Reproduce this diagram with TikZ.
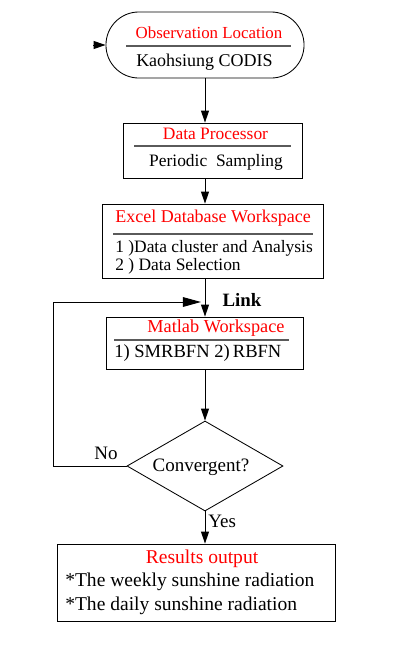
\documentclass[tikz,border=0pt]{standalone}
\usepackage{fontspec}
\setmainfont{Liberation Serif}
\usetikzlibrary{arrows.meta,shapes.geometric,positioning,calc}
\definecolor{flowred} {RGB}{255,0,0}
\definecolor{flowgray}{RGB}{90,90,90}

\begin{document}
\begin{tikzpicture}[
  x=0.025cm,y=-0.025cm,
  >={Triangle[length=0.30cm,width=0.20cm]},
  box/.style ={draw,line width=0.6pt,inner sep=0pt},
  fsz/.style ={font=\fontsize{#1}{#1}\selectfont},
  ttl/.style ={text=flowred,fsz=12.4,inner sep=0pt},
  txt/.style ={fsz=12.4,inner sep=0pt},
  sep/.style ={flowgray,line width=0.8pt},
  arr/.style ={->,line width=0.7pt},
  larr/.style={-{Triangle[length=0.45cm,width=0.24cm]},line width=0.7pt},
]
\useasboundingbox (0,0) rectangle (412,646);

%% ── Observation location ─────────────────────────────────────────────────────
\node[box,rounded corners=0.82cm,minimum width=4.95cm,minimum height=1.65cm]
  (obs) at (205,45) {};
\node[ttl,fsz=12] (obsttl) at (209,33) {Observation Location};
\node[txt,fsz=12.8] (obstxt) at (204.5,62) {Kaohsiung CODIS};
\draw[sep] (126,46) -- (291,46);
\coordinate (start) at (93,45);

%% ── Data processor ───────────────────────────────────────────────────────────
\node[box,minimum width=4.475cm,minimum height=1.375cm] (dp) at (212.5,150.5) {};
\node[ttl] (dpttl) at (215.5,134) {Data Processor};
\node[txt] (dptxt) at (216,162) {Periodic\ \ Sampling};
\draw[sep] (134,146) -- (291,146);

%% ── Excel database ───────────────────────────────────────────────────────────
\node[box,minimum width=5.525cm,minimum height=1.85cm] (xl) at (212.5,241) {};
\node[ttl,fsz=12.8] (xlttl) at (213,218) {Excel Database Workspace};
\node[txt,anchor=west] (xlone) at (115,248) {1 )Data cluster and Analysis};
\node[txt,anchor=west] (xltwo) at (115,266) {2 ) Data Selection};
\draw[sep] (113,234) -- (313,234);

%% ── Matlab workspace ─────────────────────────────────────────────────────────
\node[box,minimum width=4.925cm,minimum height=1.3cm] (mw) at (204.5,343) {};
\node[ttl,fsz=13] (mwttl) at (216,328) {Matlab Workspace};
\node[txt,fsz=13.2,anchor=west] (mwtxt) at (114,353) {1)\ SMRBFN 2)\,RBFN};
\draw[sep] (114,340) -- (289,340);
\node[txt,font=\fontsize{13.4}{14}\selectfont\bfseries] (link) at (242,300) {Link};

%% ── Decision ─────────────────────────────────────────────────────────────────
\node[box,diamond,aspect=1.73,minimum width=3.9cm,minimum height=2.25cm]
  (conv) at (205,466) {};
\node[txt,fsz=13.5] (convtxt) at (201,467) {Convergent?};
\node[txt,fsz=13.5] (no)  at (106,453) {No};
\node[txt,fsz=13.5,anchor=west] (yes) at (208,521) {Yes};

%% ── Results ──────────────────────────────────────────────────────────────────
\node[box,minimum width=6.95cm,minimum height=1.925cm] (res) at (196,582.5) {};
\node[ttl,fsz=13.9] (resttl) at (202,559) {Results output};
\node[txt,fsz=13.9,anchor=west] (resone) at (65,582) {*The weekly sunshine radiation};
\node[txt,fsz=13.9,anchor=west] (restwo) at (65,606) {*The daily sunshine radiation};

%% ── Connections ──────────────────────────────────────────────────────────────
\draw[arr] (start) -- (obs.west);
\draw[arr] (obs.south) -- (obs.south |- dp.north);
\draw[arr] (obs.south |- dp.south) -- (obs.south |- xl.north);
\draw[arr] (obs.south |- xl.south) -- (obs.south |- mw.north);
\draw[arr] (obs.south |- mw.south) -- (conv.north);
\draw[arr] (conv.south) -- (conv.south |- res.north);

%% ── Feedback loop: not convergent
\coordinate (lnk) at (201,302);
\draw[larr] (conv.west) -- ++(-73,0) |- (lnk);

\end{tikzpicture}
\end{document}
